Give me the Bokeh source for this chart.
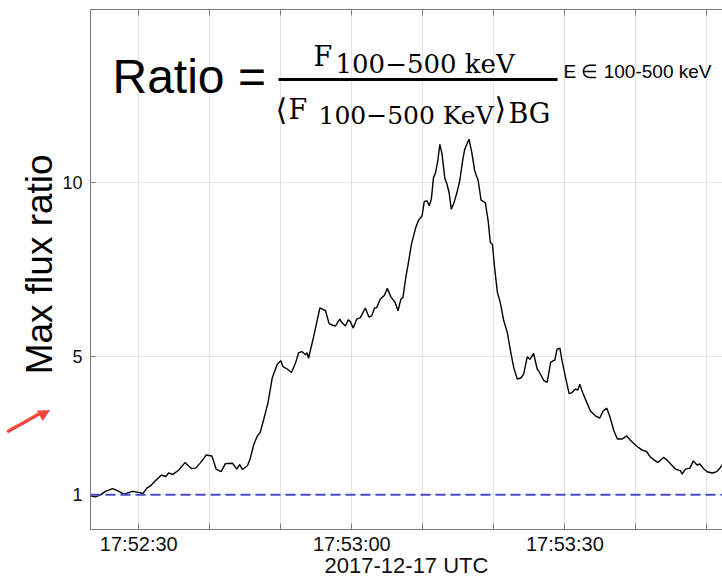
import pandas as pd
from bokeh.plotting import figure
from bokeh.models import (Range1d, FixedTicker, DatetimeAxis, LinearAxis, Span, Label, Arrow,
                          ColumnDataSource)
from bokeh.embed import file_html
from bokeh.resources import INLINE

# ---------------- data ----------------
base_time = "2017-12-17 17:52:00"
# seconds after 17:52:00 UTC
t_sec = [23.2, 23.9, 24.6, 25.3, 26.3, 27.0, 27.9, 29.1, 30.0, 30.6, 31.2, 31.6, 32.4, 33.2,
         33.8, 34.2, 34.8, 35.6, 36.5, 37.4, 38.0, 38.7, 39.5, 40.3, 40.9, 41.6, 42.2, 43.2,
         43.8, 44.2, 44.6, 45.3, 45.7, 46.2, 46.7, 47.1, 47.6, 48.2, 48.8, 49.5, 50.0, 50.3,
         50.9, 51.5, 52.1, 52.5, 53.0, 53.5, 53.7, 53.9, 54.6, 55.5, 56.3, 56.8, 57.2, 57.7,
         58.3, 58.6, 59.1, 59.5, 59.8, 60.2, 60.7, 61.2, 61.9, 62.4, 62.8, 63.2, 63.5, 64.0,
         64.6, 65.0, 65.5, 66.1, 66.5, 66.9, 67.2, 67.6, 67.9, 68.4, 69.0, 69.4, 69.9, 70.2,
         70.6, 70.9, 71.2, 71.5, 71.8, 72.1, 72.4, 72.7, 73.1, 73.4, 73.7, 74.0, 74.4, 74.8,
         75.2, 75.6, 75.9, 76.5, 76.9, 77.3, 77.8, 78.2, 78.8, 79.2, 79.5, 79.8, 80.1, 80.5,
         80.9, 81.4, 81.9, 82.3, 82.8, 83.3, 83.8, 84.2, 84.7, 85.1, 85.6, 86.1, 86.3, 87.0,
         87.5, 88.0, 88.6, 88.9, 89.3, 89.6, 90.1, 90.6, 91.0, 91.5, 91.8, 92.1, 92.5, 93.1,
         93.6, 94.3, 94.9, 95.4, 95.9, 96.3, 96.9, 97.4, 98.1, 98.7, 99.2, 99.7, 100.4, 100.9,
         101.5, 102.0, 102.6, 103.1, 103.9, 104.4, 104.9, 105.6, 106.3, 106.5, 107.0, 107.6,
         108.1, 108.6, 109.0, 109.6, 110.1, 110.8, 111.4, 111.9, 112.2]
ratio = [0.97, 0.94, 1.00, 1.10, 1.18, 1.12, 1.02, 1.10, 1.07, 1.04, 1.21, 1.25, 1.42, 1.57,
         1.53, 1.63, 1.59, 1.71, 1.93, 1.76, 1.77, 1.93, 2.15, 2.12, 1.74, 1.67, 1.90, 1.91,
         1.74, 1.87, 1.73, 1.84, 2.05, 2.46, 2.70, 2.80, 3.18, 3.66, 4.38, 4.77, 4.87, 4.70,
         4.63, 4.53, 4.82, 5.10, 5.13, 5.04, 5.10, 4.94, 5.54, 6.39, 6.31, 5.94, 5.90, 5.87,
         6.07, 5.97, 5.87, 6.05, 5.99, 5.81, 6.07, 6.11, 6.39, 6.13, 6.16, 6.39, 6.40, 6.64,
         6.76, 6.96, 6.71, 6.55, 6.31, 6.64, 6.69, 7.27, 7.61, 8.23, 8.71, 8.92, 9.05, 9.46,
         9.48, 9.34, 9.53, 10.15, 10.30, 10.63, 11.11, 10.83, 10.13, 9.96, 9.72, 9.24, 9.43, 9.72,
         10.06, 10.63, 10.97, 11.26, 10.87, 10.35, 10.06, 9.50, 9.43, 8.90, 8.28, 8.23, 7.56, 6.84,
         6.55, 6.02, 5.68, 5.20, 4.67, 4.34, 4.37, 4.48, 4.98, 4.91, 5.08, 4.63, 4.58, 4.31,
         4.24, 4.82, 4.89, 5.20, 5.23, 4.87, 4.38, 3.92, 3.95, 4.05, 4.02, 4.19, 3.95, 3.66,
         3.42, 3.28, 3.21, 3.42, 3.50, 3.28, 2.85, 2.61, 2.61, 2.70, 2.58, 2.48, 2.36, 2.29,
         2.25, 2.10, 2.00, 1.93, 2.08, 2.00, 1.89, 1.74, 1.69, 1.60, 1.74, 1.77,
         1.98, 1.86, 1.89, 1.74, 1.66, 1.63, 1.67, 1.79, 1.87]
background_level = 1
x_ticks_sec = [30, 40, 50, 60, 70, 80, 90, 100, 110]
x_tick_labels = ["17:52:30", "", "", "17:53:00", "", "", "17:53:30", "", ""]
y_ticks = [1, 5, 10]
x_window_sec = (23.2, 112.2)
y_window = (0, 15)
pointer_level = 3.5   # ratio level at which the red pointer's tip sits

# ---------------- helpers ----------------
BASE = pd.Timestamp(base_time)


def ms(s):
    return (BASE + pd.Timedelta(seconds=s)).value / 1e6


times = [BASE + pd.Timedelta(seconds=s) for s in t_sec]
src = ColumnDataSource(dict(t=times, r=ratio))
tick_ms = [ms(s) for s in x_ticks_sec]

AX = "#7a7a7a"
GRID = "#e3e3e3"
SANS = "Liberation Sans"
RED = "#f4473c"

p = figure(width=722, height=580, x_axis_type="datetime",
           x_range=Range1d(ms(x_window_sec[0]), ms(x_window_sec[1])),
           y_range=Range1d(*y_window),
           output_backend="svg", toolbar_location=None,
           min_border_left=90, min_border_right=0, min_border_top=9, min_border_bottom=0)
p.outline_line_color = None
p.background_fill_color = "white"
p.border_fill_color = "white"

# bottom axis
xa = p.xaxis[0]
xa.ticker = FixedTicker(ticks=tick_ms)
xa.major_label_overrides = {k: v for k, v in zip(tick_ms, x_tick_labels)}
xa.axis_label = "2017-12-17 UTC"
xa.axis_label_text_font = SANS
xa.axis_label_text_font_size = "22px"
xa.axis_label_text_font_style = "normal"
xa.axis_label_text_color = "#111111"
xa.axis_label_standoff = -5
xa.major_label_text_font = SANS
xa.major_label_text_font_size = "20px"
xa.major_label_text_color = "#111111"
xa.major_label_standoff = 3
xa.major_tick_in = 6
xa.major_tick_out = 0
xa.minor_tick_line_color = None
xa.axis_line_color = AX
xa.major_tick_line_color = AX

# left axis: ticks and numbers only
ya = p.yaxis[0]
ya.ticker = FixedTicker(ticks=y_ticks)
ya.major_label_text_font = SANS
ya.major_label_text_font_size = "18px"
ya.major_label_text_color = "#111111"
ya.major_label_standoff = 8
ya.major_tick_in = 5
ya.major_tick_out = 0
ya.minor_tick_line_color = None
ya.axis_line_color = AX
ya.major_tick_line_color = AX

# outer left axis: carries the y title and the red pointer (drawn outside the frame)
outer = LinearAxis(ticker=FixedTicker(ticks=[pointer_level]),
                   major_label_overrides={pointer_level: "\u2501\u2501\u2501\u25b6"},
                   major_label_orientation=0.51,
                   major_label_text_font="DejaVu Sans Mono",
                   major_label_text_font_size="20px",
                   major_label_text_color=RED,
                   major_label_standoff=4,
                   axis_line_color=None, major_tick_line_color=None,
                   minor_tick_line_color=None,
                   axis_label="\u00a0Max flux ratio",
                   axis_label_text_font=SANS, axis_label_text_font_size="37px",
                   axis_label_text_font_style="normal", axis_label_text_color="#000000",
                   axis_label_standoff=-67)
p.add_layout(outer, "left")

# top axis (box edge with inward ticks)
top = DatetimeAxis(ticker=FixedTicker(ticks=tick_ms),
                   major_label_overrides={k: "" for k in tick_ms},
                   major_label_text_font_size="0px", major_label_standoff=0,
                   major_tick_in=6, major_tick_out=0, minor_tick_line_color=None,
                   axis_line_color=AX, major_tick_line_color=AX)
p.add_layout(top, "above")

p.xgrid.ticker = FixedTicker(ticks=tick_ms)
p.ygrid.ticker = FixedTicker(ticks=y_ticks)
p.xgrid.grid_line_color = GRID
p.ygrid.grid_line_color = GRID

# curve and background reference
p.line("t", "r", source=src, line_color="black", line_width=1.4)
p.add_layout(Span(location=background_level, dimension="width", line_color="#4b4bc4",
                  line_width=2, line_dash="10 5"))

# ---------------- formula (frame-relative screen px; py = wanted baseline) ----------------
FL, FB = 90, 528


def lab(text, px, py, size, font, **kw):
    opts = dict(text_color="black", text_baseline="alphabetic")
    opts.update(kw)
    p.add_layout(Label(x=px - FL, y=FB - (py - 0.38 * size), x_units="screen", y_units="screen",
                       text=text, text_font=font, text_font_size=f"{size}px", **opts))


lab("Ratio =", 112, 93, 48, SANS)
lab("F", 313, 65, 27, "DejaVu Serif")
lab("100\u2212500 keV", 335, 72, 26, "DejaVu Serif")
lab("E \u2208 100-500 keV", 563, 77, 19, SANS)
lab("\u27e8", 275, 119, 30, "DejaVu Serif")
lab("F", 288, 118, 27, "DejaVu Serif")
lab("100\u2212500 KeV", 318, 123, 25, "DejaVu Serif")
lab("\u27e9", 494, 118, 30, "DejaVu Serif")
lab("BG", 508, 122, 27, "DejaVu Serif")

# fraction bar
p.add_layout(Arrow(x_start=278 - FL, y_start=FB - 78, x_end=557 - FL, y_end=FB - 78,
                   start_units="screen", end_units="screen", start=None, end=None,
                   line_color="black", line_width=3))

open("out.html", "w").write(file_html(p, INLINE))
